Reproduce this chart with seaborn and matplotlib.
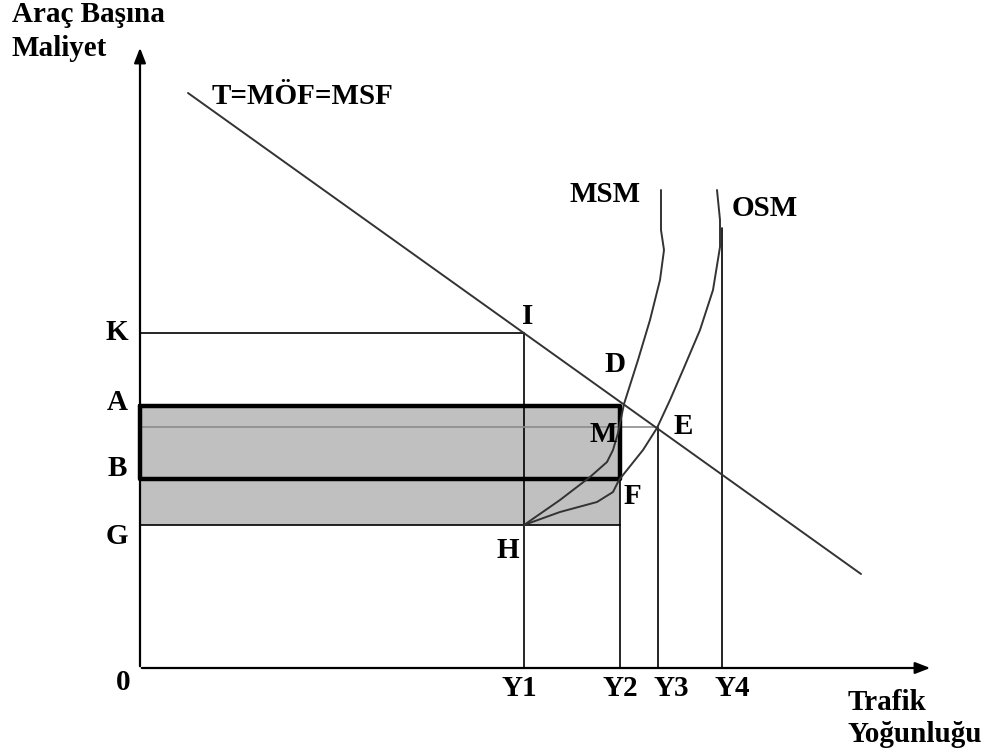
import numpy as np
import pandas as pd
import matplotlib
matplotlib.use("Agg")
import matplotlib.pyplot as plt
import seaborn as sns

# seviyeler (maliyet ekseni) ve trafik miktarlari
lvl_K, lvl_A, lvl_M, lvl_B, lvl_G = 335, 262, 241, 189, 143
q_Y1, q_Y2, q_Y3, q_Y4 = 384, 480, 518, 582
y4_top = 440

# T=MOF=MSF dogrusu
t_x = [48, 721]
t_y = [575, 94]

# MSM egrisi (H -> yukari)
msm_x = [384, 420, 450, 467, 473, 478, 484, 498, 510, 520, 524, 521, 521]
msm_y = [143, 168, 191, 206, 218, 235, 264, 308, 348, 388, 418, 438, 478]

# OSM egrisi (H -> yukari)
osm_x = [384, 420, 457, 473, 479, 487, 503, 517, 530, 543, 560, 573, 580, 580, 577]
osm_y = [143, 156, 166, 176, 188, 198, 218, 240, 268, 298, 338, 378, 421, 448, 478]

sns.set_style("white")
plt.rcParams['font.family'] = ['Liberation Serif', 'DejaVu Serif']

fig = plt.figure(figsize=(9.91, 7.55), dpi=100)
ax = fig.add_axes([0, 0, 1, 1])
ax.set_xlim(-140, 851)
ax.set_ylim(-87, 668)
ax.axis("off")

raw = dict(sort=False, estimator=None, errorbar=None, ax=ax)

# gri alan
ax.fill_between([0, q_Y2], lvl_G, lvl_A, color="#c0c0c0", lw=0, zorder=1)

# kalin cerceveli dikdortgen
rx = [0, q_Y2, q_Y2, 0, 0]
ry = [lvl_A, lvl_A, lvl_B, lvl_B, lvl_A]
sns.lineplot(x=rx, y=ry, color="black", lw=3.2, zorder=4, **raw)

# ince yatay/dikey cizgiler
thin = dict(color="black", lw=1.2, zorder=3, **raw)
sns.lineplot(x=[0, q_Y1], y=[lvl_K, lvl_K], **thin)
sns.lineplot(x=[0, q_Y2], y=[lvl_G, lvl_G], **thin)
sns.lineplot(x=[q_Y1, q_Y1], y=[0, lvl_K], **thin)
sns.lineplot(x=[q_Y2, q_Y2], y=[0, lvl_A], **thin)
sns.lineplot(x=[q_Y3, q_Y3], y=[0, lvl_M], **thin)
sns.lineplot(x=[q_Y4, q_Y4], y=[0, y4_top], **thin)
sns.lineplot(x=[0, q_Y3], y=[lvl_M, lvl_M], color="#8c8c8c", lw=1.2, zorder=3, **raw)

# egriler
sns.lineplot(x=t_x, y=t_y, color="#333333", lw=1.4, zorder=5, **raw)
sns.lineplot(x=msm_x, y=msm_y, color="#333333", lw=1.4, zorder=5, **raw)
sns.lineplot(x=osm_x, y=osm_y, color="#333333", lw=1.4, zorder=5, **raw)

# eksenler
arr = dict(arrowstyle="-|>,head_length=0.9,head_width=0.35", color="black", lw=1.6)
ax.annotate("", xy=(0, 623), xytext=(0, -1), arrowprops=arr, zorder=6)
ax.annotate("", xy=(793, 0), xytext=(-1, 0), arrowprops=arr, zorder=6)

fs = 21
txt = dict(fontsize=fs, fontweight="bold", color="black")
ax.text(-128, 654, "Araç Başına", ha="left", va="center", **txt)
ax.text(-128, 620, "Maliyet", ha="left", va="center", **txt)
ax.text(72, 571, "T=MÖF=MSF", ha="left", va="center", **txt)
ax.text(430, 473, "MSM", ha="left", va="center", **txt)
ax.text(592, 460, "OSM", ha="left", va="center", **txt)
ax.text(708, -35, "Trafik", ha="left", va="center", **txt)
ax.text(708, -67, "Yoğunluğu", ha="left", va="center", **txt)

pts = {"I": (388, 351), "D": (475, 303), "M": (463, 233), "E": (543, 242),
       "F": (492, 171), "H": (368, 118),
       "K": (-23, 335), "A": (-23, 266), "B": (-23, 200), "G": (-23, 131),
       "0": (-17, -14), "Y1": (379, -21), "Y2": (480, -21), "Y3": (531, -21),
       "Y4": (592, -21)}
for lab, (px, py) in pts.items():
    ax.text(px, py, lab, ha="center", va="center", zorder=7, **txt)

fig.savefig("out.png", dpi=100)
